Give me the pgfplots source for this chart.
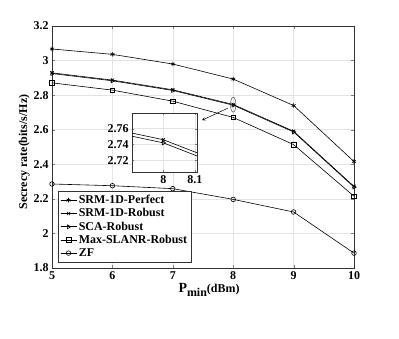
\documentclass[border=0pt]{standalone}
\usepackage{fontspec}
\setmainfont{Liberation Serif}
\usepackage{pgfplots}
\pgfplotsset{compat=1.18}
\begin{document}
\begin{tikzpicture}
\useasboundingbox (-52bp,-71bp) rectangle (347bp,268bp);
\pgfplotsset{
  every axis/.append style={
    scale only axis,
    font=\fontsize{12}{14}\selectfont\bfseries,
    tick label style={font=\fontsize{12}{14}\selectfont\bfseries},
    /pgf/number format/assume math mode=true,
    grid=major, grid style={gray!22, line width=0.6pt},
    tick align=inside, major tick length=3bp,
    axis line style={line width=0.6pt, black!80},
    every axis plot/.append style={black, line width=0.6pt, mark size=2.3bp},
  },
}
\begin{axis}[
  at={(0,0)}, anchor=south west,
  width=302bp, height=242bp,
  xmin=5, xmax=10, ymin=1.8, ymax=3.2,
  xtick={5,6,7,8,9,10},
  ytick={1.8,2,2.2,2.4,2.6,2.8,3,3.2},
  xlabel={{\fontsize{14}{16}\selectfont P}\raisebox{-4bp}{min}(dBm)},
  ylabel={Secrecy rate(bits/s/Hz)},
  xlabel style={yshift=3bp, xshift=6bp},
  ylabel style={yshift=-3bp, xshift=-5bp},
  legend style={at={(0.02,0.025)}, anchor=south west, draw=black!80,
    font=\fontsize{12}{14}\selectfont\bfseries, inner sep=2pt,
    row sep=-0.5pt},
  legend cell align=left,
  legend image code/.code={\draw[#1] (0bp,0bp) -- (16bp,0bp); \draw[#1, only marks] plot coordinates {(8bp,0bp)};},
]
\addplot[mark=asterisk] coordinates {(5,3.067) (6,3.036) (7,2.980) (8,2.893) (9,2.740) (10,2.416)};
\addlegendentry{SRM-1D-Perfect}
\addplot[mark=x] coordinates {(5,2.929) (6,2.887) (7,2.831) (8,2.746) (9,2.591) (10,2.272)};
\addlegendentry{SRM-1D-Robust}
\addplot[mark=triangle, mark options={rotate=-90}] coordinates {(5,2.925) (6,2.883) (7,2.827) (8,2.742) (9,2.587) (10,2.268)};
\addlegendentry{SCA-Robust}
\addplot[mark=square] coordinates {(5,2.871) (6,2.829) (7,2.765) (8,2.671) (9,2.514) (10,2.215)};
\addlegendentry{Max-SLANR-Robust}
\addplot[mark=o] coordinates {(5,2.286) (6,2.276) (7,2.259) (8,2.197) (9,2.124) (10,1.886)};
\addlegendentry{ZF}
\draw[black!70, line width=0.5pt] (axis cs:8,2.745) ellipse [x radius=2.7bp, y radius=7.5bp];
\draw[-stealth, line width=0.5pt] (axis cs:7.914,2.725) -- (axis cs:7.483,2.655);
\end{axis}
\begin{axis}[
  at={(80bp,96bp)}, anchor=south west,
  width=65bp, height=59bp,
  xmin=7.9, xmax=8.107, ymin=2.705, ymax=2.78,
  xtick={8,8.1}, ytick={2.72,2.74,2.76},
  yticklabel style={/pgf/number format/fixed, /pgf/number format/precision=2},
  xticklabel style={/pgf/number format/fixed},
  axis background/.style={fill=white},
  major tick length=2bp,
]
\addplot[mark=x] coordinates {(7,2.831) (8,2.746) (9,2.591)};
\addplot[mark=triangle, mark options={rotate=-90}] coordinates {(7,2.827) (8,2.742) (9,2.587)};
\end{axis}
\end{tikzpicture}
\end{document}
